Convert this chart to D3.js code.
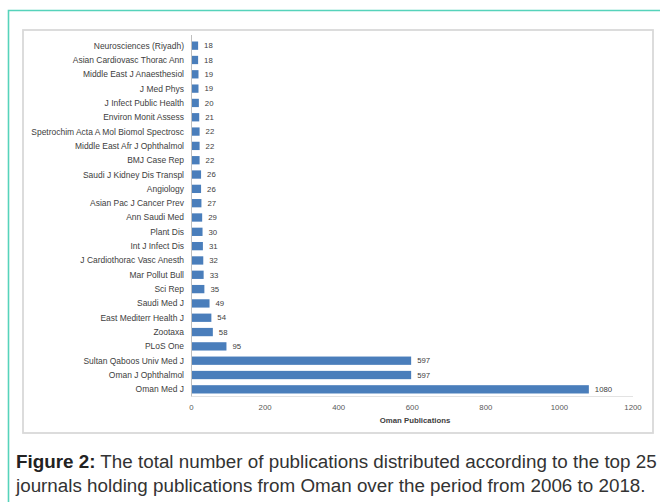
<!DOCTYPE html>
<html>
<head>
<meta charset="utf-8">
<script src="https://cdn.jsdelivr.net/npm/d3@7"></script>
<style>
  html, body { margin: 0; padding: 0; background: #fff; }
  svg { display: block; }
</style>
</head>
<body>
<svg id="chart" width="660" height="502"></svg>
<script>
const journals = [
  "Neurosciences (Riyadh)", "Asian Cardiovasc Thorac Ann", "Middle East J Anaesthesiol",
  "J Med Phys", "J Infect Public Health", "Environ Monit Assess",
  "Spetrochim Acta A Mol Biomol Spectrosc", "Middle East Afr J Ophthalmol", "BMJ Case Rep",
  "Saudi J Kidney Dis Transpl", "Angiology", "Asian Pac J Cancer Prev", "Ann Saudi Med",
  "Plant Dis", "Int J Infect Dis", "J Cardiothorac Vasc Anesth", "Mar Pollut Bull",
  "Sci Rep", "Saudi Med J", "East Mediterr Health J", "Zootaxa", "PLoS One",
  "Sultan Qaboos Univ Med J", "Oman J Ophthalmol", "Oman Med J"
];
const publications = [18, 18, 19, 19, 20, 21, 22, 22, 22, 26, 26, 27, 29, 30, 31, 32, 33, 35, 49, 54, 58, 95, 597, 597, 1080];
const xTicks = [0, 200, 400, 600, 800, 1000, 1200];
const axisTitle = "Oman Publications";
const captionBold = "Figure 2:";
const captionLine1 = " The total number of publications distributed according to the top 25";
const captionLine2 = "journals holding publications from Oman over the period from 2006 to 2018.";

const svg = d3.select("#chart");

// outer teal frame (open to right/bottom)
svg.append("path")
  .attr("d", "M8.5,502 L8.5,10.5 L660,10.5")
  .attr("fill", "none").attr("stroke", "#56d3bb").attr("stroke-width", 1.6);

// inner chart box
svg.append("rect")
  .attr("x", 23).attr("y", 30).attr("width", 630).attr("height", 403)
  .attr("fill", "#fff").attr("stroke", "#d9d9d9").attr("stroke-width", 1.8);

const x = d3.scaleLinear().domain([0, 1200]).range([191.5, 633]);
const y = d3.scaleBand().domain(journals).range([38.5, 396.5]).paddingInner(0.42).paddingOuter(0.21);

const g = svg.append("g");

// x axis baseline (faint)
g.append("line")
  .attr("x1", x(0)).attr("x2", x(1200)).attr("y1", 396.5).attr("y2", 396.5)
  .attr("stroke", "#e3e3e3").attr("stroke-width", 1);

// bars
g.selectAll("rect.bar").data(journals).enter().append("rect")
  .attr("class", "bar")
  .attr("x", x(0))
  .attr("y", (d) => y(d))
  .attr("width", (d, i) => x(publications[i]) - x(0))
  .attr("height", y.bandwidth())
  .attr("fill", "#4a7ebb");

// y axis line
g.append("line")
  .attr("x1", x(0)).attr("x2", x(0)).attr("y1", 35).attr("y2", 396.5)
  .attr("stroke", "#bfbfbf").attr("stroke-width", 1);

const labelFont = "'Liberation Sans', Arial, sans-serif";

// category labels
const cat = g.selectAll("text.cat").data(journals).enter().append("text")
  .attr("class", "cat")
  .attr("x", 184)
  .attr("y", (d) => y(d) + y.bandwidth() / 2)
  .attr("dy", "0.35em")
  .attr("text-anchor", "end")
  .attr("font-family", labelFont)
  .attr("font-size", 7)
  .attr("fill", "#404040")
  .text((d) => d);

// fit longest label to ~153px
let maxW = 0;
cat.each(function () { maxW = Math.max(maxW, this.getComputedTextLength()); });
const catSize = 7 * 153 / maxW;
cat.attr("font-size", catSize);

// value labels
g.selectAll("text.val").data(journals).enter().append("text")
  .attr("class", "val")
  .attr("x", (d, i) => x(publications[i]) + 6)
  .attr("y", (d) => y(d) + y.bandwidth() / 2)
  .attr("dy", "0.35em")
  .attr("font-family", labelFont)
  .attr("font-size", catSize * 0.92)
  .attr("fill", "#404040")
  .text((d, i) => publications[i]);

// x tick labels
g.selectAll("text.tick").data(xTicks).enter().append("text")
  .attr("x", (d) => x(d))
  .attr("y", 410)
  .attr("text-anchor", "middle")
  .attr("font-family", labelFont)
  .attr("font-size", catSize * 0.92)
  .attr("fill", "#595959")
  .text((d) => d);

// axis title
g.append("text")
  .attr("x", 415).attr("y", 422.5)
  .attr("text-anchor", "middle")
  .attr("font-family", labelFont)
  .attr("font-size", catSize * 0.92)
  .attr("font-weight", "bold")
  .attr("fill", "#404040")
  .text(axisTitle);

// caption
const capFont = "'Liberation Sans', Arial, sans-serif";
const cap1 = svg.append("text")
  .attr("x", 16).attr("y", 467.5)
  .attr("font-family", capFont).attr("font-size", 16).attr("fill", "#333");
cap1.append("tspan").attr("font-weight", "bold").attr("fill", "#222").text(captionBold);
cap1.append("tspan").text(captionLine1);
const cap2 = svg.append("text")
  .attr("x", 16).attr("y", 491.5)
  .attr("font-family", capFont).attr("font-size", 16).attr("fill", "#333")
  .text(captionLine2);
const w1 = cap1.node().getComputedTextLength();
const capSize = 16 * 641 / w1;
cap1.attr("font-size", capSize);
cap2.attr("font-size", capSize);
</script>
</body>
</html>
